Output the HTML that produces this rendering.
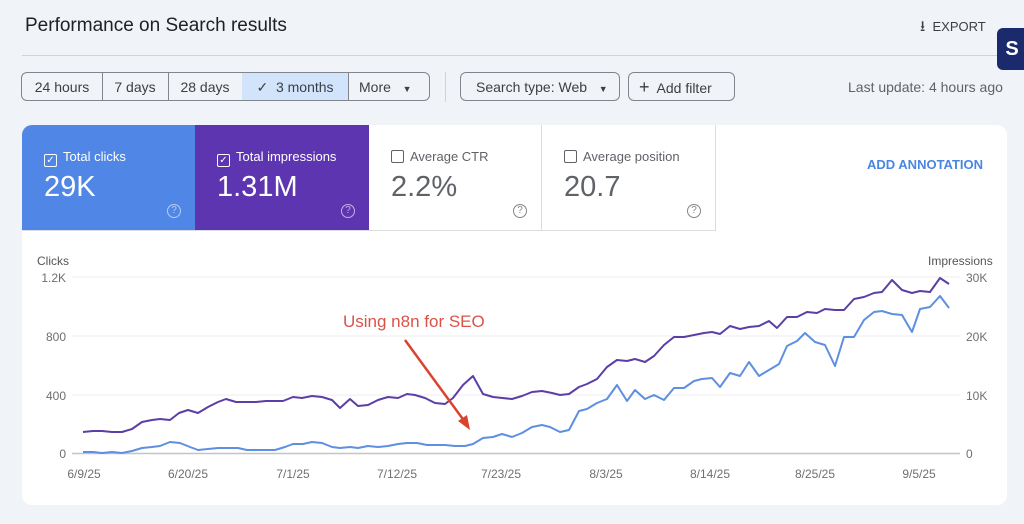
<!DOCTYPE html>
<html><head><meta charset="utf-8"><style>
body{margin:0;width:1024px;height:524px;background:#f0f4f8;font-family:"Liberation Sans",sans-serif;position:relative;overflow:hidden;color:#3c4043}
.a{position:absolute}
.btn{position:absolute;top:72px;height:29px;border:1px solid #80868b;border-radius:6px;font-size:14px;line-height:29px;color:#3c4043;box-sizing:border-box}
.seg{position:absolute;top:0;height:27px;border-right:1px solid #80868b;text-align:center}
.tile{position:absolute;top:125px;height:106px;box-sizing:border-box}
.tl{position:absolute;left:22px;top:24px;font-size:13px}
.tv{position:absolute;left:22px;top:46px;font-size:29px}
.cb{display:inline-block;width:11px;height:11px;border:1.5px solid;border-radius:2px;vertical-align:-2px;margin-right:6px;font-size:10px;line-height:11px;text-align:center}
.q{position:absolute;right:14px;top:79px;width:12px;height:12px;border:1.3px solid;border-radius:50%;font-size:10px;line-height:12px;text-align:center}
</style></head><body>
<div class="a" style="left:25px;top:15px;font-size:19px;color:#202124">Performance on Search results</div>
<div class="a" style="left:920px;top:16px;font-size:13px;color:#3c4043"><span style="font-size:15px">&#x2B73;</span>&nbsp; EXPORT</div>
<div class="a" style="left:22px;top:55px;width:982px;height:1px;background:#cfd3d7"></div>
<div class="a" style="left:997px;top:28px;width:30px;height:42px;background:#1a2a6c;border-radius:6px 0 0 6px;color:#fff;font-weight:bold;font-size:20px;line-height:42px;text-align:center">S</div>
<div class="btn" style="left:21px;width:409px">
<div class="seg" style="left:0;width:80px">24 hours</div>
<div class="seg" style="left:80px;width:66px">7 days</div>
<div class="seg" style="left:146px;width:74px">28 days</div>
<div class="seg" style="left:220px;width:106px;background:#d2e3fc">&#10003;&nbsp; 3 months</div>
<div class="seg" style="left:326px;width:81px;border:none;text-align:left;padding-left:11px">More &nbsp; <span style="font-size:9px">&#9660;</span></div>
</div>
<div class="a" style="left:445px;top:72px;width:1px;height:30px;background:#cfd3d7"></div>
<div class="btn" style="left:460px;width:160px;padding-left:15px">Search type: Web &nbsp; <span style="font-size:9px">&#9660;</span></div>
<div class="btn" style="left:628px;width:107px;padding-left:10px"><span style="font-size:18px">+</span>&nbsp; Add filter</div>
<div class="a" style="left:848px;top:79px;font-size:14px;color:#5f6368">Last update: 4 hours ago</div>
<div class="a" style="left:22px;top:125px;width:985px;height:380px;background:#fff;border-radius:10px"></div>
<div class="tile" style="left:22px;width:173px;background:#5086e6;color:#fff;border-radius:10px 0 0 0"><div class="tl"><span class="cb">&#10003;</span>Total clicks</div><div class="tv">29K</div><div class="q" style="color:#b8cdf5">?</div></div>
<div class="tile" style="left:195px;width:174px;background:#5e35b1;color:#fff"><div class="tl"><span class="cb">&#10003;</span>Total impressions</div><div class="tv">1.31M</div><div class="q" style="color:#c4b3e6">?</div></div>
<div class="tile" style="left:369px;width:173px;border-right:1px solid #dadce0;border-bottom:1px solid #dadce0;color:#5f6368"><div class="tl"><span class="cb"></span>Average CTR</div><div class="tv">2.2%</div><div class="q" style="color:#80868b">?</div></div>
<div class="tile" style="left:542px;width:174px;border-right:1px solid #dadce0;border-bottom:1px solid #dadce0;color:#5f6368"><div class="tl"><span class="cb"></span>Average position</div><div class="tv">20.7</div><div class="q" style="color:#80868b">?</div></div>
<div class="a" style="left:22px;top:230px;width:347px;height:1px;background:#dadce0"></div>
<div class="a" style="left:867px;top:157px;font-size:13px;font-weight:bold;color:#4a86e0">ADD ANNOTATION</div>
<svg class="a" style="left:0;top:0" width="1024" height="524">
<g stroke="#eeeeee" stroke-width="1"><line x1="72" y1="277" x2="960" y2="277"/><line x1="72" y1="336" x2="960" y2="336"/><line x1="72" y1="395" x2="960" y2="395"/></g>
<line x1="72" y1="453.5" x2="960" y2="453.5" stroke="#c4c4c4" stroke-width="1.5"/>
<g font-size="12" fill="#6f6f6f" font-family="Liberation Sans">
<text x="37" y="265" fill="#555">Clicks</text><text x="928" y="265" fill="#555">Impressions</text>
<g text-anchor="end"><text x="66" y="282">1.2K</text><text x="66" y="341">800</text><text x="66" y="400">400</text><text x="66" y="458">0</text></g>
<text x="966" y="282">30K</text><text x="966" y="341">20K</text><text x="966" y="400">10K</text><text x="966" y="458">0</text>
<g text-anchor="middle"><text x="84" y="478">6/9/25</text><text x="188" y="478">6/20/25</text><text x="293" y="478">7/1/25</text><text x="397" y="478">7/12/25</text><text x="501" y="478">7/23/25</text><text x="606" y="478">8/3/25</text><text x="710" y="478">8/14/25</text><text x="815" y="478">8/25/25</text><text x="919" y="478">9/5/25</text></g>
</g>
<polyline fill="none" stroke="#5e8fe0" stroke-width="2" stroke-linejoin="round" points="83,452 93,452 102,453 112,452 122,453 132,451 142,448 152,447 160,446 170,442 180,443 190,447 198,450 208,449 218,448 228,448 238,448 247,450 257,450 267,450 275,450 285,447 293,444 303,444 312,442 322,443 332,447 340,448 350,447 358,448 368,446 378,447 388,446 398,444 407,443 417,443 427,445 437,445 445,445 455,446 465,446 473,444 483,438 493,437 502,434 512,437 522,433 532,427 542,425 550,427 560,432 569,430 579,411 587,409 597,403 607,399 617,385 627,401 635,390 645,399 654,395 664,400 674,388 684,388 694,381 702,379 712,378 720,387 730,373 740,376 749,362 759,376 769,370 779,364 787,346 797,341 805,333 815,342 825,345 835,366 844,337 854,337 864,320 874,312 882,311 892,314 902,315 912,332 920,309 930,307 940,296 949,308"/>
<polyline fill="none" stroke="#5b3ea6" stroke-width="2" stroke-linejoin="round" points="83,432 93,431 102,431 112,432 122,432 132,429 142,422 152,420 160,419 170,420 179,413 188,410 198,413 208,407 218,402 226,399 236,402 246,402 256,402 266,401 274,401 283,401 293,397 302,398 312,396 322,397 332,400 340,408 350,399 358,406 368,405 378,400 388,397 398,398 407,394 415,395 425,398 435,403 445,404 453,398 463,385 473,376 483,394 493,397 512,399 522,396 532,392 542,391 552,393 560,395 569,394 579,387 587,384 597,379 607,367 617,360 627,361 635,359 645,362 654,356 664,345 674,337 684,337 694,335 704,333 712,332 720,334 730,326 740,329 749,327 759,326 769,321 777,328 787,317 797,317 807,312 817,313 825,309 835,310 844,310 854,299 864,297 874,293 882,292 892,280 902,290 912,293 920,291 930,292 940,278 949,284"/>
<line x1="405" y1="340" x2="465" y2="422" stroke="#d9442f" stroke-width="2.5"/>
<polygon points="470,430 458,421 467,415" fill="#d9442f"/>
<text x="343" y="327" font-size="17" fill="#d9534a" font-family="Liberation Sans">Using n8n for SEO</text>
</svg>
</body></html>
